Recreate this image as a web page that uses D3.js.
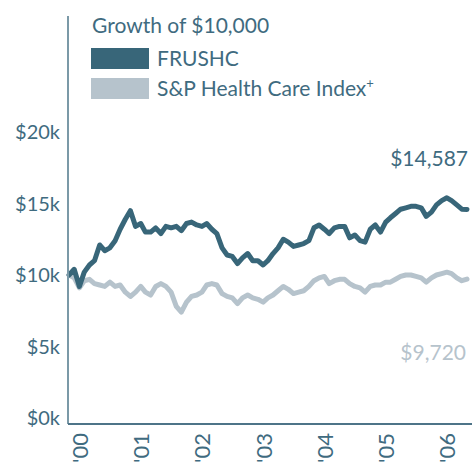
<!DOCTYPE html>
<html>
<head>
<meta charset="utf-8">
<script src="https://cdn.jsdelivr.net/npm/d3@7"></script>
<style>
  body { margin: 0; background: #fff; }
  text { font-family: Lato, "Open Sans", sans-serif; }
</style>
</head>
<body>
<div id="chart"></div>
<script>
// month-end values, Dec 1999 - Jun 2006, in $ thousands
const startMonth = new Date(1999, 11, 1);
const fund = [10.0, 10.4, 9.2, 10.2, 10.7, 11.0, 12.1, 11.7, 11.9, 12.4,
  13.2, 13.9, 14.5, 13.4, 13.6, 13.0, 13.0, 13.3, 12.9, 13.4,
  13.3, 13.4, 13.1, 13.6, 13.7, 13.5, 13.4, 13.6, 13.2, 12.9,
  11.9, 11.4, 11.3, 10.8, 11.2, 11.5, 11.0, 11.0, 10.7, 11.0,
  11.5, 11.9, 12.5, 12.3, 12.0, 12.1, 12.2, 12.4, 13.3, 13.5,
  13.2, 12.9, 13.3, 13.4, 13.4, 12.6, 12.8, 12.4, 12.3, 13.2,
  13.5, 13.0, 13.7, 14.0, 14.3, 14.6, 14.7, 14.8, 14.8, 14.7,
  14.1, 14.4, 14.9, 15.2, 15.4, 15.2, 14.9, 14.6, 14.587];
const index = [10.0, 9.8, 9.1, 9.6, 9.7, 9.4, 9.3, 9.2, 9.5, 9.2,
  9.3, 8.8, 8.5, 8.8, 9.2, 8.8, 8.6, 9.2, 9.4, 9.2,
  8.8, 7.8, 7.4, 8.1, 8.5, 8.6, 8.8, 9.3, 9.4, 9.3,
  8.7, 8.5, 8.4, 8.0, 8.4, 8.6, 8.4, 8.3, 8.1, 8.4,
  8.6, 8.9, 9.2, 9.0, 8.7, 8.8, 8.9, 9.2, 9.6, 9.8,
  9.9, 9.4, 9.6, 9.7, 9.7, 9.4, 9.2, 9.1, 8.8, 9.2,
  9.3, 9.3, 9.5, 9.5, 9.7, 9.9, 10.0, 10.0, 9.9, 9.8,
  9.5, 9.8, 10.0, 10.1, 10.2, 10.1, 9.8, 9.6, 9.72];
const yTicks = [0, 5, 10, 15, 20];
const years = [2000, 2001, 2002, 2003, 2004, 2005, 2006];
const seriesNames = ["FRUSHC", "S&P Health Care Index"];
const endLabels = ["$14,587", "$9,720"];

const dark = "#386679", light = "#b6c3cc", textCol = "#3f6b80", axisCol = "#7b99a7";
const width = 472, height = 462;
const left = 68, right = 467;

const svg = d3.select("#chart").append("svg")
  .attr("width", width).attr("height", height);

const dates = fund.map((d, i) => d3.timeMonth.offset(startMonth, i));

const xScale = d3.scaleTime()
  .domain([dates[0], dates[dates.length - 1]])
  .range([left + 1, right]);

const yScale = d3.scaleLinear()
  .domain([0, 20])
  .range([418, 132]);

// y tick labels
svg.append("g").selectAll("text")
  .data(yTicks)
  .join("text")
  .attr("x", 60)
  .attr("y", d => yScale(d))
  .attr("dy", "0.35em")
  .attr("text-anchor", "end")
  .attr("font-size", 20)
  .attr("fill", textCol)
  .text(d => `$${d}k`);

// x tick labels, rotated
svg.append("g").selectAll("text")
  .data(years)
  .join("text")
  .attr("transform", d => `translate(${xScale(new Date(d, 0, 1)) + 6},433) rotate(-90)`)
  .attr("dy", "0.35em")
  .attr("text-anchor", "end")
  .attr("font-size", 22)
  .attr("fill", textCol)
  .text(d => "'" + String(d).slice(2));

const line = d3.line()
  .x((d, i) => xScale(dates[i]))
  .y(d => yScale(d));

svg.append("path")
  .datum(index)
  .attr("fill", "none")
  .attr("stroke", light)
  .attr("stroke-width", 5)
  .attr("stroke-linejoin", "round")
  .attr("stroke-linecap", "round")
  .attr("d", line);

svg.append("path")
  .datum(fund)
  .attr("fill", "none")
  .attr("stroke", dark)
  .attr("stroke-width", 5)
  .attr("stroke-linejoin", "round")
  .attr("stroke-linecap", "round")
  .attr("d", line);

// axes lines
svg.append("line")
  .attr("x1", left).attr("x2", left)
  .attr("y1", 16).attr("y2", 424)
  .attr("stroke", axisCol).attr("stroke-width", 2);
svg.append("line")
  .attr("x1", left).attr("x2", width)
  .attr("y1", 424).attr("y2", 424)
  .attr("stroke", "#4e7488").attr("stroke-width", 2);

// end value labels
svg.append("text")
  .attr("x", 468).attr("y", 166)
  .attr("text-anchor", "end")
  .attr("font-size", 21)
  .attr("fill", textCol)
  .text(endLabels[0]);
svg.append("text")
  .attr("x", 466).attr("y", 360)
  .attr("text-anchor", "end")
  .attr("font-size", 21)
  .attr("fill", light)
  .text(endLabels[1]);

// title + legend
svg.append("text")
  .attr("x", 92).attr("y", 33)
  .attr("font-size", 21)
  .attr("fill", textCol)
  .text("Growth of $10,000");

const legend = svg.append("g");
[dark, light].forEach((c, i) => {
  legend.append("rect")
    .attr("x", 91).attr("y", 48 + i * 30)
    .attr("width", 58).attr("height", 21)
    .attr("fill", c);
  const t = legend.append("text")
    .attr("x", 157).attr("y", 66 + i * 30)
    .attr("font-size", 21)
    .attr("fill", textCol)
    .text(seriesNames[i]);
  if (i === 1) {
    t.append("tspan").attr("dy", -8).attr("font-size", 13).text("+");
  }
});
</script>
</body>
</html>
